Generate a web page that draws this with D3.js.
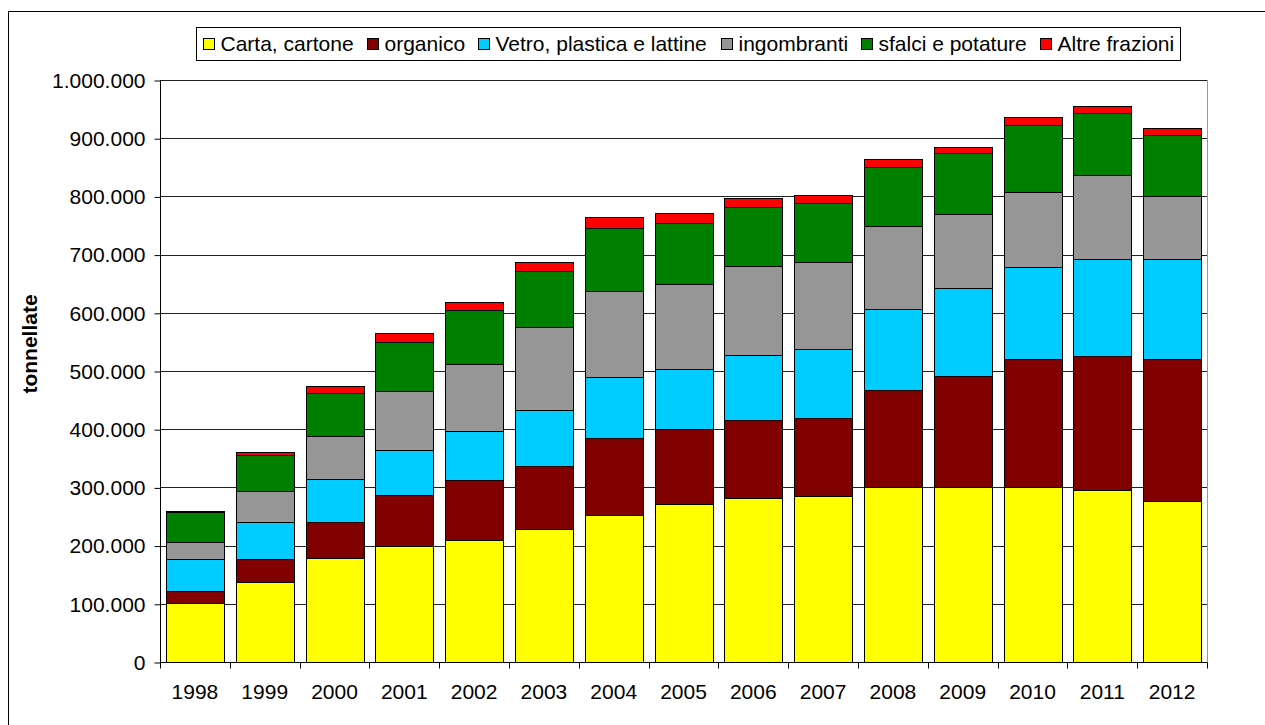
<!DOCTYPE html>
<html>
<head>
<meta charset="utf-8">
<script src="https://cdn.jsdelivr.net/npm/d3@7"></script>
<style>
  html, body { margin: 0; padding: 0; background: #fff; }
  svg { display: block; font-family: "Liberation Sans", Arial, sans-serif; }
</style>
</head>
<body>
<svg id="chart" width="1265" height="725"></svg>
<script>
const years = ["1998","1999","2000","2001","2002","2003","2004","2005","2006","2007","2008","2009","2010","2011","2012"];
const seriesNames = ["Carta, cartone","organico","Vetro, plastica e lattine","ingombranti","sfalci e potature","Altre frazioni"];
const seriesColors = ["#FFFF00","#800000","#00CCFF","#969696","#008000","#FF0000"];
const carta        = [102,138,178,199,210,229,252,272,282,285,301,301,301,295,276];
const organico     = [ 20, 39, 63, 88,103,108,133,128,134,135,166,191,219,231,244];
const vetro        = [ 55, 64, 74, 77, 84, 96,104,104,111,117,140,151,158,167,173];
const ingombranti  = [ 30, 53, 74,102,115,143,148,146,153,151,143,127,130,144,108];
const sfalci       = [ 50, 62, 74, 84, 93, 96,109,104,102,100,101,104,114,106,104];
const altre        = [  3,  5, 11, 16, 13, 16, 18, 18, 15, 15, 14, 11, 14, 13, 13];
const yTicks = [0,100000,200000,300000,400000,500000,600000,700000,800000,900000,1000000];

(function () {
const seriesValues = [carta, organico, vetro, ingombranti, sfalci, altre];
const keys = seriesNames;
const table = years.map((yr, i) => {
  const row = { year: yr };
  keys.forEach((k, j) => row[k] = seriesValues[j][i] * 1000);
  return row;
});

const svg = d3.select("#chart");
const pL = 160, pR = 1207, pT = 80, pB = 662;
const fontSize = 21;

const locale = d3.formatLocale({ decimal: ",", thousands: ".", grouping: [3], currency: ["", "€"] });
const fmt = locale.format(",d");

const x = d3.scaleBand().domain(years).range([pL, pR]).paddingInner(0.17).paddingOuter(0.085);
const y = d3.scaleLinear().domain([0, 1000000]).range([pB, pT]);

// outer frame
svg.append("rect").attr("x", 8.5).attr("y", 11.5).attr("width", 1300).attr("height", 800)
  .attr("fill", "none").attr("stroke", "#000").attr("stroke-width", 1);

// plot area border
svg.append("rect").attr("x", pL + 0.5).attr("y", pT + 0.5).attr("width", pR - pL).attr("height", pB - pT)
  .attr("fill", "none").attr("stroke", "#999").attr("stroke-width", 1);

// gridlines
svg.append("g").selectAll("line").data(yTicks).join("line")
  .attr("x1", pL).attr("x2", pR)
  .attr("y1", d => Math.round(y(d)) + 0.5).attr("y2", d => Math.round(y(d)) + 0.5)
  .attr("stroke", "#222").attr("stroke-width", 1);

// stacked bars
const stacked = d3.stack().keys(keys)(table);
svg.append("g").selectAll("g").data(stacked).join("g")
  .attr("fill", (d, i) => seriesColors[i])
  .selectAll("rect").data(d => d).join("rect")
  .attr("x", d => Math.round(x(d.data.year)) + 0.5)
  .attr("width", Math.round(x.bandwidth()))
  .attr("y", d => Math.round(y(d[1])) + 0.5)
  .attr("height", d => Math.max(0, Math.round(y(d[0])) - Math.round(y(d[1]))))
  .attr("stroke", "#000").attr("stroke-width", 1);

// y axis
const yAxis = d3.axisLeft(y).tickValues(yTicks).tickSize(6).tickPadding(9).tickFormat(d => fmt(d));
const gy = svg.append("g").attr("transform", `translate(${pL + 0.5},0.5)`).call(yAxis);
gy.select(".domain").attr("stroke", "#000").attr("d", `M0,${pT}V${pB}`);
gy.selectAll(".tick line").attr("stroke", "#000");
gy.selectAll(".tick text").attr("font-size", fontSize).attr("fill", "#000")
  .attr("font-family", "Liberation Sans, Arial, sans-serif");

// x axis with ticks at category boundaries
const gx = svg.append("g").attr("transform", `translate(0,${pB + 0.5})`);
gx.append("line").attr("x1", pL).attr("x2", pR).attr("stroke", "#000");
const bounds = d3.range(years.length + 1).map(i => pL + i * (pR - pL) / years.length);
gx.selectAll(".bt").data(bounds).join("line").attr("class", "bt")
  .attr("x1", d => Math.round(d) + 0.5).attr("x2", d => Math.round(d) + 0.5)
  .attr("y1", 0).attr("y2", 6).attr("stroke", "#000");
const xAxis = d3.axisBottom(x).tickSize(0).tickPadding(22);
const gx2 = svg.append("g").attr("transform", `translate(0,${pB})`).call(xAxis);
gx2.select(".domain").remove();
gx2.selectAll(".tick text").attr("font-size", fontSize).attr("fill", "#000")
  .attr("font-family", "Liberation Sans, Arial, sans-serif");

// y label
svg.append("text").attr("transform", "translate(37,344) rotate(-90)")
  .attr("text-anchor", "middle").attr("font-size", 21).attr("font-weight", "bold")
  .text("tonnellate");

// legend
const lg = svg.append("g");
const lx0 = 196, lx1 = 1180, ly0 = 27, ly1 = 60;
lg.append("rect").attr("x", lx0 + 0.5).attr("y", ly0 + 0.5).attr("width", lx1 - lx0).attr("height", ly1 - ly0)
  .attr("fill", "#fff").attr("stroke", "#000");
const items = lg.selectAll("g").data(keys).join("g");
items.append("rect").attr("width", 11).attr("height", 11)
  .attr("fill", (d, i) => seriesColors[i]).attr("stroke", "#000");
const texts = items.append("text").attr("x", 17).attr("y", 12).attr("font-size", fontSize).text(d => d);
const widths = texts.nodes().map(n => n.getComputedTextLength());
const itemW = widths.map(w => 17 + w);
const padL = 7, padR = 6;
const gap = (lx1 - lx0 - padL - padR - d3.sum(itemW)) / (keys.length - 1);
let cx = lx0 + padL;
items.each(function (d, i) {
  d3.select(this).attr("transform", `translate(${Math.round(cx) + 0.5},${Math.round((ly0 + ly1) / 2 - 5.5) + 0.5})`);
  cx += itemW[i] + gap;
});
})();
</script>
</body>
</html>
